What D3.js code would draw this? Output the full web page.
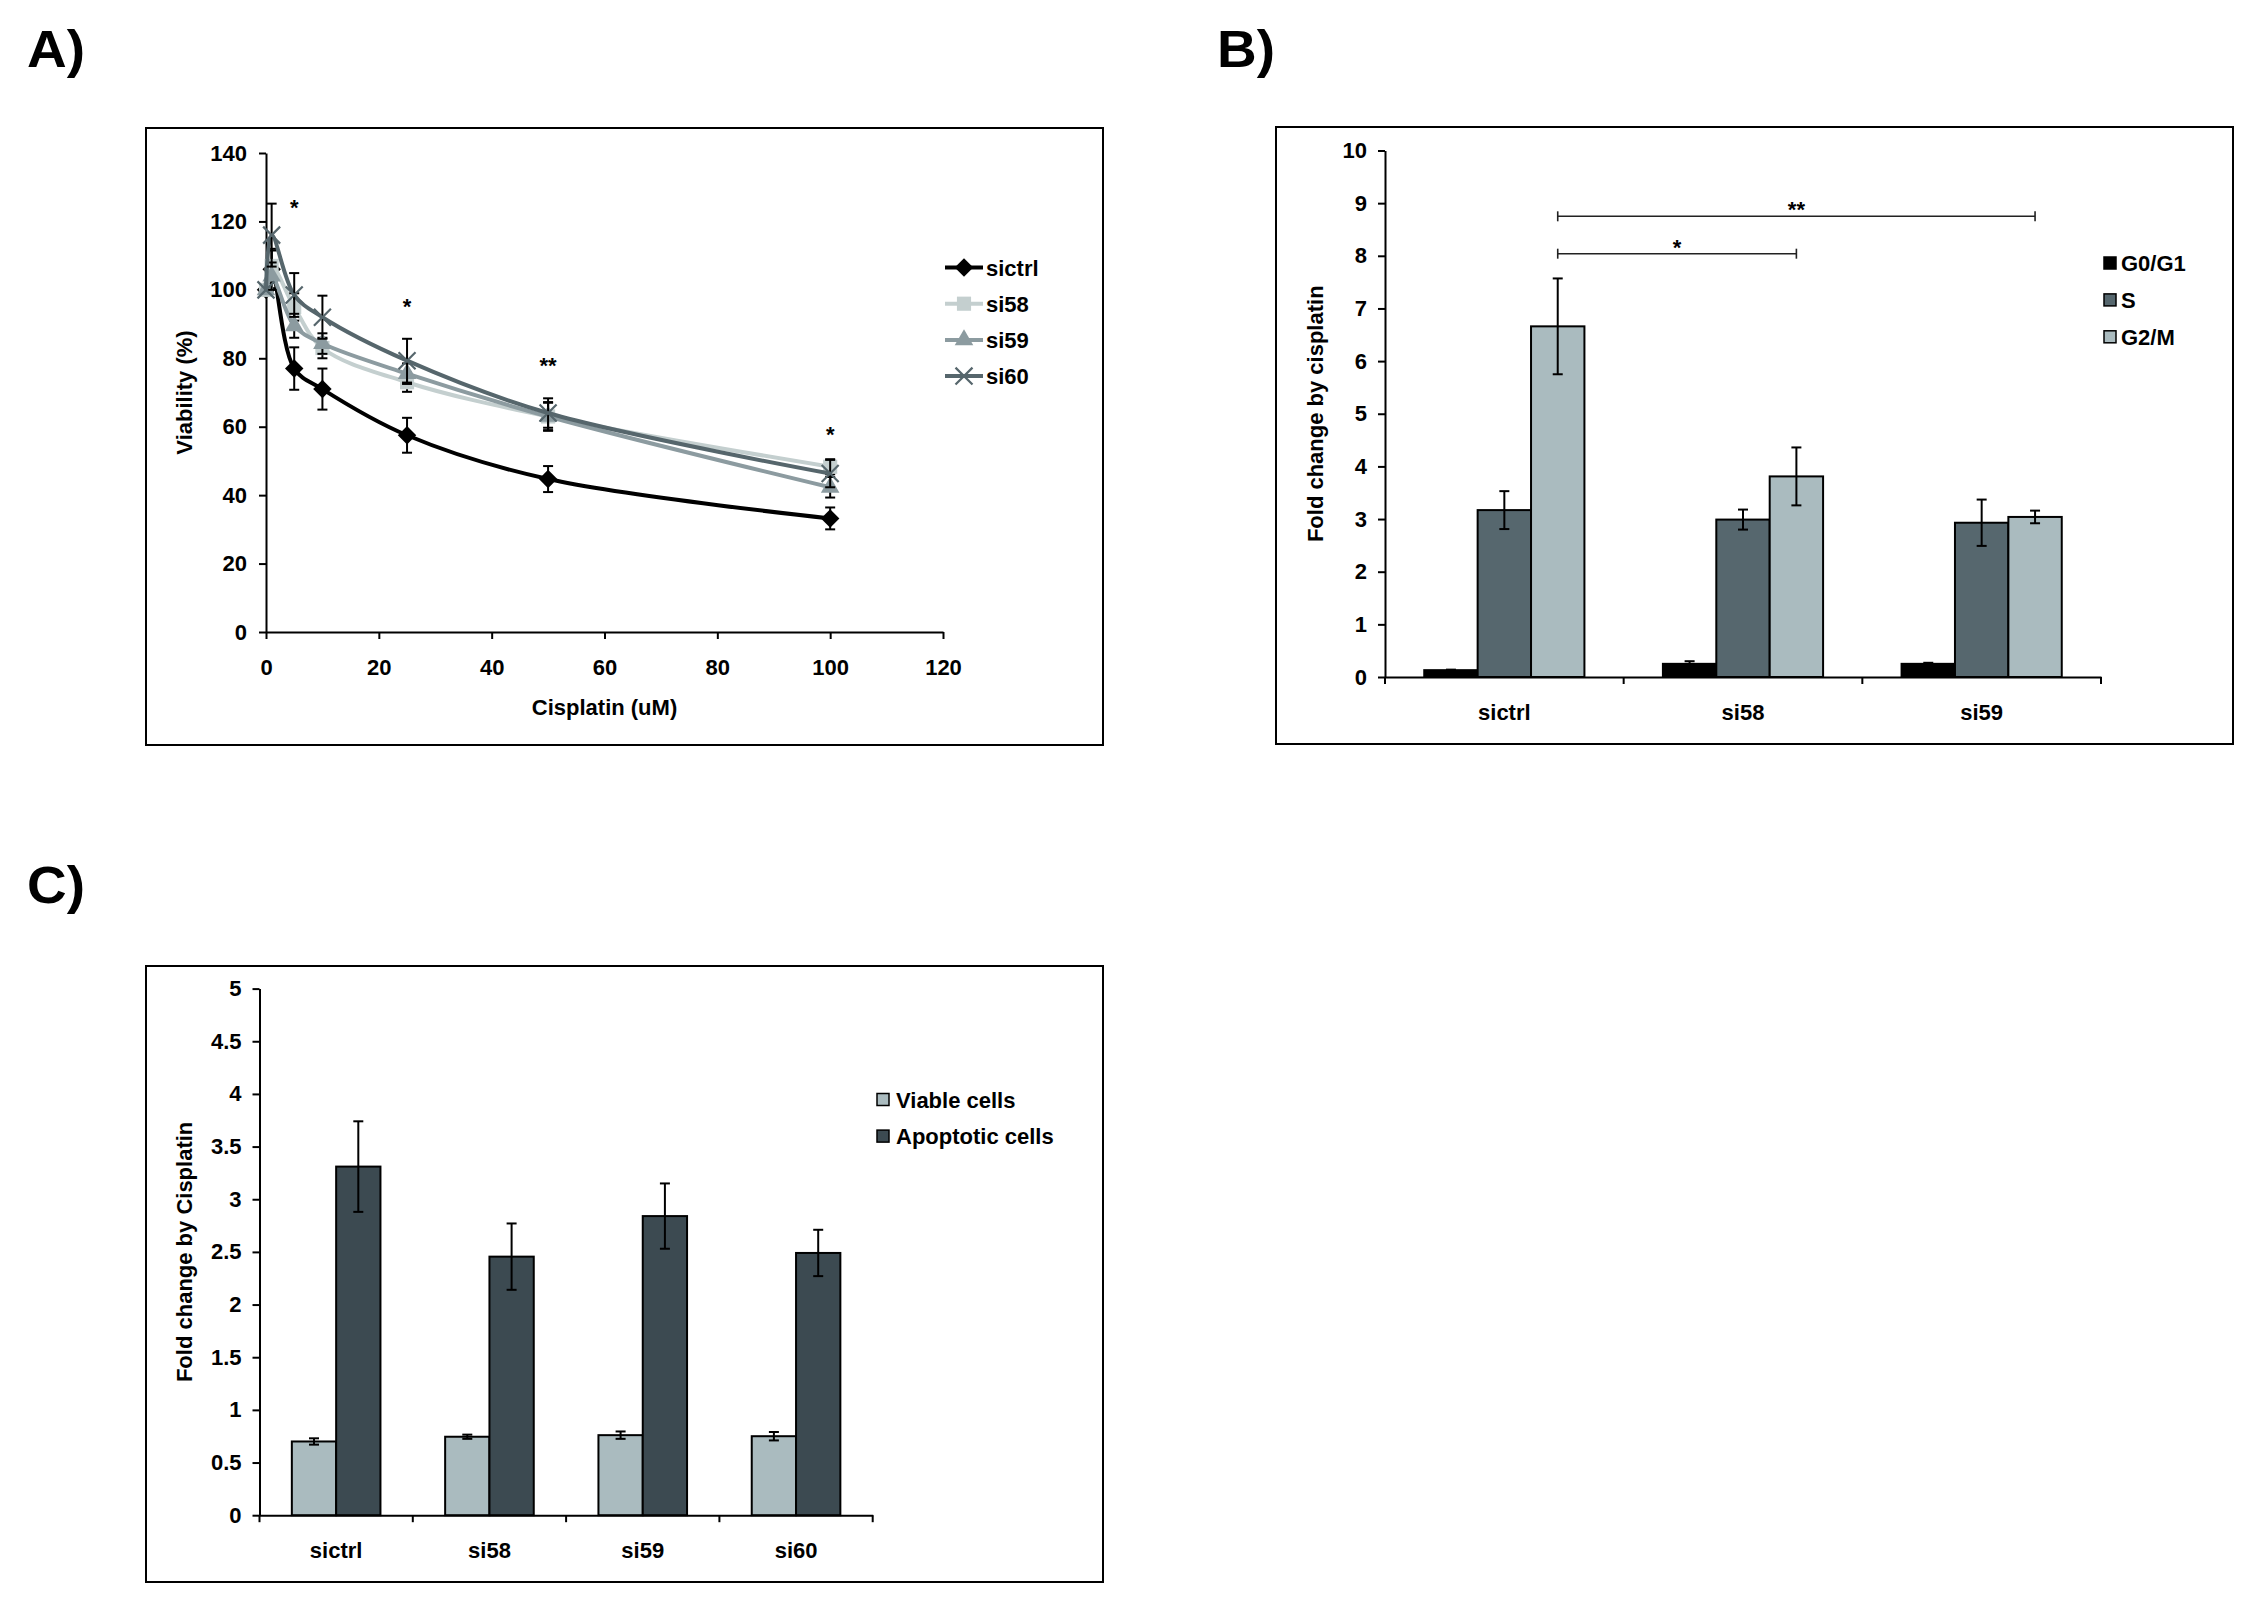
<!DOCTYPE html>
<html><head><meta charset="utf-8">
<script src="https://cdn.jsdelivr.net/npm/d3@7"></script>
<style>
body{margin:0;background:#fff}
svg{display:block}
text{font-family:"Liberation Sans",Arial,Helvetica,sans-serif;font-weight:bold;fill:#000}
</style>
</head><body>
<svg id="c" width="2260" height="1614"></svg>
<script>
// ---------- Panel A: viability vs cisplatin ----------
const doses = [0, 1, 5, 10, 25, 50, 100];
const seriesA = ["sictrl", "si58", "si59", "si60"];
const viabSictrl = [100, 106, 77, 71, 57.5, 44.7, 33.2];
const viabSi58   = [100, 107, 95, 83, 73, 63, 48.3];
const viabSi59   = [100, 104, 89.5, 84.3, 75.5, 63, 42.3];
const viabSi60   = [100, 116, 98.5, 92, 79.3, 64, 46.3];
const errSictrl  = [0, 5.5, 6.2, 6, 5.1, 3.8, 3.2];
const errSi58    = [0, 5, 4, 3, 2.8, 4.2, 2.2];
const errSi59    = [0, 4, 3.5, 3, 3, 4, 3];
const errSi60    = [0, 9.2, 6.4, 6.3, 6.4, 4.3, 4];
const sigDoses   = [5, 25, 50, 100];
const sigLevels  = [125.3, 96.4, 79.2, 59];
const sigLabels  = ["*", "*", "**", "*"];
const xTicksA    = [0, 20, 40, 60, 80, 100, 120];
const yTicksA    = [0, 20, 40, 60, 80, 100, 120, 140];

// ---------- Panel B: cell cycle ----------
const groupsB   = ["sictrl", "si58", "si59"];
const phases    = ["G0/G1", "S", "G2/M"];
const g0g1      = [0.13, 0.25, 0.25];
const g0g1Err   = [0.01, 0.05, 0.02];
const sPhase    = [3.17, 2.99, 2.93];
const sPhaseErr = [0.36, 0.19, 0.44];
const g2m       = [6.66, 3.81, 3.04];
const g2mErr    = [0.91, 0.55, 0.12];
const bracketFrom   = ["sictrl", "sictrl"];
const bracketTo     = ["si58", "si59"];
const bracketLevel  = [8.04, 8.75];
const bracketLabels = ["*", "**"];
const yTicksB   = [0,1,2,3,4,5,6,7,8,9,10];

// ---------- Panel C: apoptosis ----------
const groupsC      = ["sictrl", "si58", "si59", "si60"];
const cellTypes    = ["Viable cells", "Apoptotic cells"];
const viable       = [0.70, 0.745, 0.76, 0.75];
const viableErr    = [0.03, 0.02, 0.035, 0.04];
const apoptotic    = [3.31, 2.455, 2.84, 2.49];
const apoptoticErr = [0.43, 0.315, 0.31, 0.22];
const yTicksC      = [0, 0.5, 1, 1.5, 2, 2.5, 3, 3.5, 4, 4.5, 5];

const svg = d3.select("#c");
const FS = 22;

function styleAxis(g) {
  g.attr("font-family", null).attr("font-size", FS);
  g.selectAll("path.domain").attr("stroke", "#000").attr("stroke-width", 2);
  g.selectAll(".tick line").attr("stroke", "#000").attr("stroke-width", 2);
  g.selectAll("text").style("font-size", FS + "px").attr("fill", "#000");
}
function frame(x0, y0, x1, y1) {
  svg.append("rect").attr("x", x0).attr("y", y0).attr("width", x1 - x0).attr("height", y1 - y0)
    .attr("fill", "none").attr("stroke", "#000").attr("stroke-width", 2);
}
function panelLabel(t, x, y) {
  svg.append("text").attr("x", x).attr("y", y).text(t)
    .style("font-size", "52px").attr("textLength", 58).attr("lengthAdjust", "spacingAndGlyphs");
}
function yTitle(t, cx, cy) {
  svg.append("text").attr("transform", `translate(${cx},${cy}) rotate(-90)`)
    .attr("text-anchor", "middle").attr("dy", "0.35em").style("font-size", FS + "px").text(t);
}

// ================= Panel A =================
panelLabel("A)", 27, 67);
frame(146, 128, 1103, 745);
const xA = d3.scaleLinear().domain([0, 120]).range([266, 943]);
const yA = d3.scaleLinear().domain([0, 140]).range([632, 153]);

svg.append("g").attr("transform", `translate(0,${yA(0)})`)
  .call(d3.axisBottom(xA).tickValues(xTicksA).tickSize(7).tickSizeOuter(0).tickPadding(20).tickFormat(d3.format("d")))
  .call(styleAxis);
svg.append("g").attr("transform", `translate(${xA(0)},0)`)
  .call(d3.axisLeft(yA).tickValues(yTicksA).tickSize(7).tickSizeOuter(0).tickPadding(12).tickFormat(d3.format("d")))
  .call(styleAxis);
yTitle("Viability (%)", 184, (yA(0) + yA(140)) / 2);
svg.append("text").attr("x", (xA(0) + xA(120)) / 2).attr("y", 715).attr("text-anchor", "middle")
  .style("font-size", FS + "px").text("Cisplatin (uM)");

const colorsA = { sictrl: "#000000", si58: "#c4cfcf", si59: "#8c9ba0", si60: "#56666c" };
const valsA = { sictrl: viabSictrl, si58: viabSi58, si59: viabSi59, si60: viabSi60 };
const errsA = { sictrl: errSictrl, si58: errSi58, si59: errSi59, si60: errSi60 };

function drawMarker(g, name, x, y) {
  const c = colorsA[name];
  if (name === "sictrl") {
    g.append("path").attr("d", d3.symbol(d3.symbolSquare, 170)())
      .attr("transform", `translate(${x},${y}) rotate(45)`).attr("fill", c);
  } else if (name === "si58") {
    g.append("path").attr("d", d3.symbol(d3.symbolSquare, 200)())
      .attr("transform", `translate(${x},${y})`).attr("fill", c);
  } else if (name === "si59") {
    g.append("path").attr("d", d3.symbol(d3.symbolTriangle, 150)())
      .attr("transform", `translate(${x},${y})`).attr("fill", c);
  } else {
    g.append("path").attr("d", d3.symbol(d3.symbolTimes, 190)())
      .attr("transform", `translate(${x},${y})`).attr("fill", "none").attr("stroke", c).attr("stroke-width", 2.2);
  }
}

const lineA = d3.line().curve(d3.curveCatmullRom.alpha(0.5)).x(d => xA(d[0])).y(d => yA(d[1]));
const plotA = svg.append("g");
seriesA.forEach(name => {
  const pts = doses.map((d, i) => [d, valsA[name][i], errsA[name][i]]);
  plotA.append("path").datum(pts).attr("d", lineA).attr("fill", "none")
    .attr("stroke", colorsA[name]).attr("stroke-width", 4);
  pts.forEach(p => {
    if (p[2] > 0) {
      const x = xA(p[0]), y0 = yA(p[1] - p[2]), y1 = yA(p[1] + p[2]);
      plotA.append("line").attr("x1", x).attr("x2", x).attr("y1", y0).attr("y2", y1).attr("stroke", "#000").attr("stroke-width", 2);
      [y0, y1].forEach(yy => plotA.append("line").attr("x1", x - 5).attr("x2", x + 5).attr("y1", yy).attr("y2", yy).attr("stroke", "#000").attr("stroke-width", 2));
    }
    drawMarker(plotA, name, xA(p[0]), yA(p[1]));
  });
});
sigDoses.forEach((d, i) => {
  svg.append("text").attr("x", xA(d)).attr("y", yA(sigLevels[i]) + 12).attr("text-anchor", "middle")
    .style("font-size", FS + "px").text(sigLabels[i]);
});
// legend A
const legA = svg.append("g");
seriesA.forEach((name, i) => {
  const y = 267.5 + i * 36.2;
  legA.append("line").attr("x1", 945).attr("x2", 983).attr("y1", y).attr("y2", y)
    .attr("stroke", colorsA[name]).attr("stroke-width", 4);
  drawMarker(legA, name, 964, y);
  legA.append("text").attr("x", 986).attr("y", y + 8).style("font-size", FS + "px").text(name);
});

// ================= Panel B =================
panelLabel("B)", 1217, 67);
frame(1276, 127, 2233, 744);
const xB = d3.scaleBand().domain(groupsB).range([1385, 2101]).paddingInner(0).paddingOuter(0);
const xB1 = d3.scaleBand().domain(phases).range([0, xB.bandwidth()]).paddingInner(0).paddingOuter(0.735);
const yB = d3.scaleLinear().domain([0, 10]).range([677, 150.5]);
const colorsB = { "G0/G1": "#000000", "S": "#56676e", "G2/M": "#aabbbf" };
const valsB = { "G0/G1": g0g1, "S": sPhase, "G2/M": g2m };
const errsB = { "G0/G1": g0g1Err, "S": sPhaseErr, "G2/M": g2mErr };

svg.append("g").attr("transform", `translate(${xB.range()[0]},0)`)
  .call(d3.axisLeft(yB).tickValues(yTicksB).tickSize(7).tickSizeOuter(0).tickPadding(11).tickFormat(d3.format("d")))
  .call(styleAxis);
const gxB = svg.append("g").attr("transform", `translate(0,${yB(0)})`)
  .call(d3.axisBottom(xB).tickSize(0).tickSizeOuter(0).tickPadding(27))
  .call(styleAxis);
groupsB.concat(["__end"]).forEach((c, i) => {
  const x = i < groupsB.length ? xB(c) : xB.range()[1];
  gxB.append("line").attr("x1", x).attr("x2", x).attr("y1", 0).attr("y2", 7).attr("stroke", "#000").attr("stroke-width", 2);
});
yTitle("Fold change by cisplatin", 1315, (yB(0) + yB(10)) / 2);

const plotB = svg.append("g");
groupsB.forEach((grp, gi) => {
  phases.forEach(ph => {
    const x = xB(grp) + xB1(ph), w = xB1.bandwidth(), v = valsB[ph][gi], e = errsB[ph][gi];
    plotB.append("rect").attr("x", x).attr("y", yB(v)).attr("width", w).attr("height", yB(0) - yB(v))
      .attr("fill", colorsB[ph]).attr("stroke", "#000").attr("stroke-width", 2);
    const cx = x + w / 2, y0 = yB(v - e), y1 = yB(v + e);
    plotB.append("line").attr("x1", cx).attr("x2", cx).attr("y1", y0).attr("y2", y1).attr("stroke", "#000").attr("stroke-width", 2);
    [y0, y1].forEach(yy => plotB.append("line").attr("x1", cx - 5).attr("x2", cx + 5).attr("y1", yy).attr("y2", yy).attr("stroke", "#000").attr("stroke-width", 2));
  });
});
bracketTo.forEach((to, i) => {
  const xa = xB(bracketFrom[i]) + xB1("G2/M") + xB1.bandwidth() / 2;
  const xb = xB(to) + xB1("G2/M") + xB1.bandwidth() / 2;
  const y = yB(bracketLevel[i]);
  const g = svg.append("g").attr("stroke", "#222").attr("stroke-width", 1.6);
  g.append("line").attr("x1", xa).attr("x2", xb).attr("y1", y).attr("y2", y);
  g.append("line").attr("x1", xa).attr("x2", xa).attr("y1", y - 5).attr("y2", y + 5);
  g.append("line").attr("x1", xb).attr("x2", xb).attr("y1", y - 5).attr("y2", y + 5);
  svg.append("text").attr("x", (xa + xb) / 2).attr("y", y + 1).attr("text-anchor", "middle")
    .style("font-size", FS + "px").text(bracketLabels[i]);
});
const legB = svg.append("g");
phases.forEach((ph, i) => {
  const y = 263 + i * 36.9;
  legB.append("rect").attr("x", 2104).attr("y", y - 6).attr("width", 12).attr("height", 12)
    .attr("fill", colorsB[ph]).attr("stroke", "#000").attr("stroke-width", 1.5);
  legB.append("text").attr("x", 2121).attr("y", y + 8).style("font-size", FS + "px").text(ph);
});

// ================= Panel C =================
panelLabel("C)", 27, 903);
frame(146, 966, 1103, 1582);
const xC = d3.scaleBand().domain(groupsC).range([259.5, 872.7]).paddingInner(0).paddingOuter(0);
const xC1 = d3.scaleBand().domain(cellTypes).range([0, xC.bandwidth()]).paddingInner(0).paddingOuter(0.73);
const yC = d3.scaleLinear().domain([0, 5]).range([1515.2, 988.6]);
const colorsC = { "Viable cells": "#aabbbf", "Apoptotic cells": "#3c4a51" };
const valsC = { "Viable cells": viable, "Apoptotic cells": apoptotic };
const errsC = { "Viable cells": viableErr, "Apoptotic cells": apoptoticErr };

svg.append("g").attr("transform", `translate(${xC.range()[0]},0)`)
  .call(d3.axisLeft(yC).tickValues(yTicksC).tickSize(7).tickSizeOuter(0).tickPadding(11).tickFormat(d => String(d)))
  .call(styleAxis);
const gxC = svg.append("g").attr("transform", `translate(0,${yC(0)})`)
  .call(d3.axisBottom(xC).tickSize(0).tickSizeOuter(0).tickPadding(27))
  .call(styleAxis);
groupsC.concat(["__end"]).forEach((c, i) => {
  const x = i < groupsC.length ? xC(c) : xC.range()[1];
  gxC.append("line").attr("x1", x).attr("x2", x).attr("y1", 0).attr("y2", 7).attr("stroke", "#000").attr("stroke-width", 2);
});
yTitle("Fold change by Cisplatin", 184, (yC(0) + yC(5)) / 2);

const plotC = svg.append("g");
groupsC.forEach((grp, gi) => {
  cellTypes.forEach(ct => {
    const x = xC(grp) + xC1(ct), w = xC1.bandwidth(), v = valsC[ct][gi], e = errsC[ct][gi];
    plotC.append("rect").attr("x", x).attr("y", yC(v)).attr("width", w).attr("height", yC(0) - yC(v))
      .attr("fill", colorsC[ct]).attr("stroke", "#000").attr("stroke-width", 2);
    const cx = x + w / 2, y0 = yC(v - e), y1 = yC(v + e);
    plotC.append("line").attr("x1", cx).attr("x2", cx).attr("y1", y0).attr("y2", y1).attr("stroke", "#000").attr("stroke-width", 2);
    [y0, y1].forEach(yy => plotC.append("line").attr("x1", cx - 5).attr("x2", cx + 5).attr("y1", yy).attr("y2", yy).attr("stroke", "#000").attr("stroke-width", 2));
  });
});
const legC = svg.append("g");
cellTypes.forEach((ct, i) => {
  const y = 1099.5 + i * 36.6;
  legC.append("rect").attr("x", 877).attr("y", y - 6).attr("width", 12).attr("height", 12)
    .attr("fill", colorsC[ct]).attr("stroke", "#000").attr("stroke-width", 1.5);
  legC.append("text").attr("x", 896).attr("y", y + 8).style("font-size", FS + "px").text(ct);
});
</script>
</body></html>
